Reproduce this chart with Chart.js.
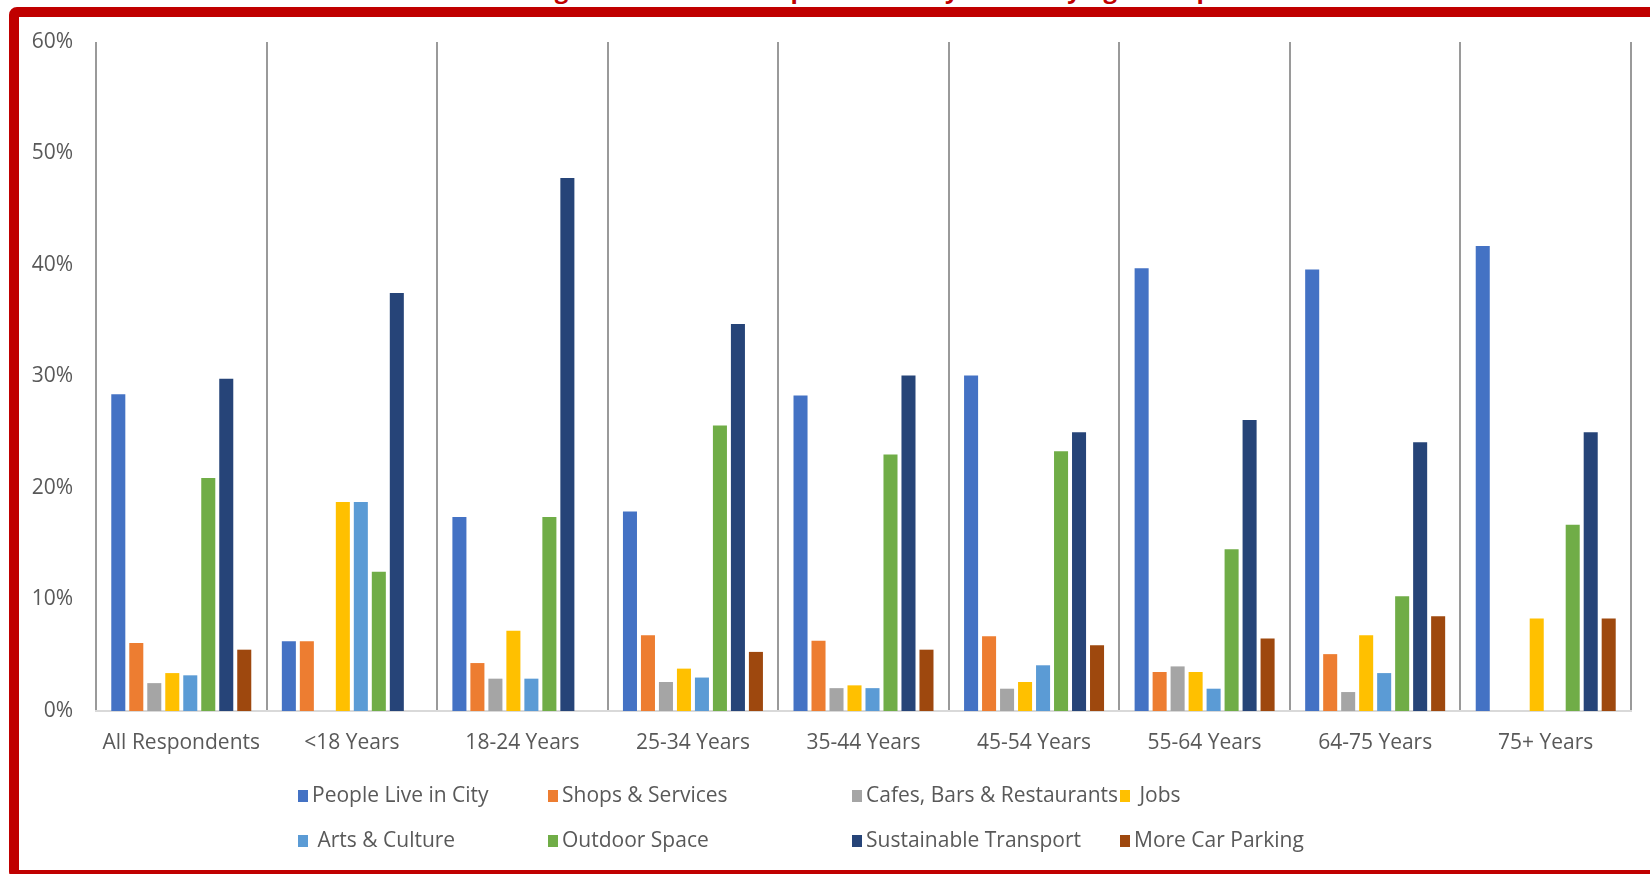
<!DOCTYPE html>
<html>
<head>
<meta charset="utf-8">
<script src="https://cdn.jsdelivr.net/npm/chart.js@4/dist/chart.umd.min.js"></script>
<style>
  html, body { margin: 0; padding: 0; background: #fff; overflow: hidden; }
  #title {
    position: absolute; left: 0; width: 1746px; top: -23px;
    text-align: center; font: bold 24px "Open Sans", sans-serif; color: #c00000;
    line-height: 24px; white-space: nowrap;
  }
  #box {
    position: absolute; left: 9px; top: 7px; width: 1680px; height: 873px;
    border: 10px solid #c00000; border-radius: 8px; box-sizing: border-box;
  }
  #chart { position: absolute; left: 0; top: 0; }
</style>
</head>
<body>
<div id="title">Figure 33 – How to Improve the City Centre by Age Group</div>
<div id="box"></div>
<canvas id="chart" width="1650" height="874"></canvas>
<script>
const categories = ['All Respondents', '<18 Years', '18-24 Years', '25-34 Years', '35-44 Years',
  '45-54 Years', '55-64 Years', '64-75 Years', '75+ Years']

const peopleLive = [28.4, 6.25, 17.4, 17.9, 28.3, 30.1, 39.7, 39.6, 41.7]
const shops = [6.1, 6.25, 4.3, 6.8, 6.3, 6.7, 3.5, 5.1, 0]
const cafes = [2.5, 0, 2.9, 2.6, 2.05, 2.0, 4.0, 1.7, 0]
const jobs = [3.4, 18.75, 7.2, 3.8, 2.3, 2.6, 3.5, 6.8, 8.3]
const arts = [3.2, 18.75, 2.9, 3.0, 2.05, 4.1, 2.0, 3.4, 0]
const outdoor = [20.9, 12.5, 17.4, 25.6, 23.0, 23.3, 14.5, 10.3, 16.7]
const transport = [29.8, 37.5, 47.8, 34.7, 30.1, 25.0, 26.1, 24.1, 25.0]
const parking = [5.5, 0, 0, 5.3, 5.5, 5.9, 6.5, 8.5, 8.3]

const yTicks = [0, 10, 20, 30, 40, 50, 60]

const seriesNames = ['People Live in City', 'Shops & Services', 'Cafes, Bars & Restaurants', ' Jobs',
  ' Arts & Culture', 'Outdoor Space', 'Sustainable Transport', 'More Car Parking']
const seriesValues = [peopleLive, shops, cafes, jobs, arts, outdoor, transport, parking]
const colors = ['#4472c4', '#ed7d31', '#a5a5a5', '#ffc000', '#5b9bd5', '#70ad47', '#264478', '#9e480e']

Chart.defaults.font.family = "'Open Sans', sans-serif"
Chart.defaults.color = '#595959'

// legend laid out in a fixed grid, like the Excel one
const gridLegend = {
  id: 'gridLegend',
  afterDraw(chart) {
    const ctx = chart.ctx
    const cols = [298, 548, 852, 1120]
    const rows = [796, 841]
    ctx.save()
    ctx.font = "21px 'Open Sans', sans-serif"
    ctx.textBaseline = 'middle'
    chart.data.datasets.forEach((ds, i) => {
      const x = cols[i % 4]
      const y = rows[Math.floor(i / 4)]
      ctx.fillStyle = ds.backgroundColor
      ctx.fillRect(x, y - 6, 10, 12)
      ctx.fillStyle = '#595959'
      ctx.fillText(ds.label, x + 14, y)
    })
    ctx.restore()
  }
}

new Chart(document.getElementById('chart'), {
  type: 'bar',
  data: {
    labels: categories,
    datasets: seriesNames.map((name, i) => ({
      label: name,
      data: seriesValues[i],
      backgroundColor: colors[i],
      barPercentage: 0.78,
      categoryPercentage: 0.844
    }))
  },
  options: {
    responsive: false,
    animation: false,
    layout: { padding: { left: 0, right: 19, top: 42, bottom: 0 } },
    plugins: {
      legend: { display: false },
      tooltip: { enabled: false }
    },
    scales: {
      x: {
        grid: { display: true, offset: true, color: '#9a9a9a', lineWidth: 2, drawTicks: false },
        border: { display: true, color: '#d9d9d9', width: 2 },
        ticks: { font: { size: 21 }, padding: 19, color: '#595959', maxRotation: 0 },
        afterFit(scale) { scale.height = 874 - 42 - 669 }
      },
      y: {
        min: 0,
        max: 60,
        afterBuildTicks(scale) { scale.ticks = yTicks.map(v => ({ value: v })) },
        grid: { display: false, drawTicks: false },
        border: { display: false },
        ticks: { font: { size: 21 }, padding: 23, color: '#595959', callback: v => v + '%' },
        afterFit(scale) { scale.width = 96 }
      }
    }
  },
  plugins: [gridLegend]
})
</script>
</body>
</html>
